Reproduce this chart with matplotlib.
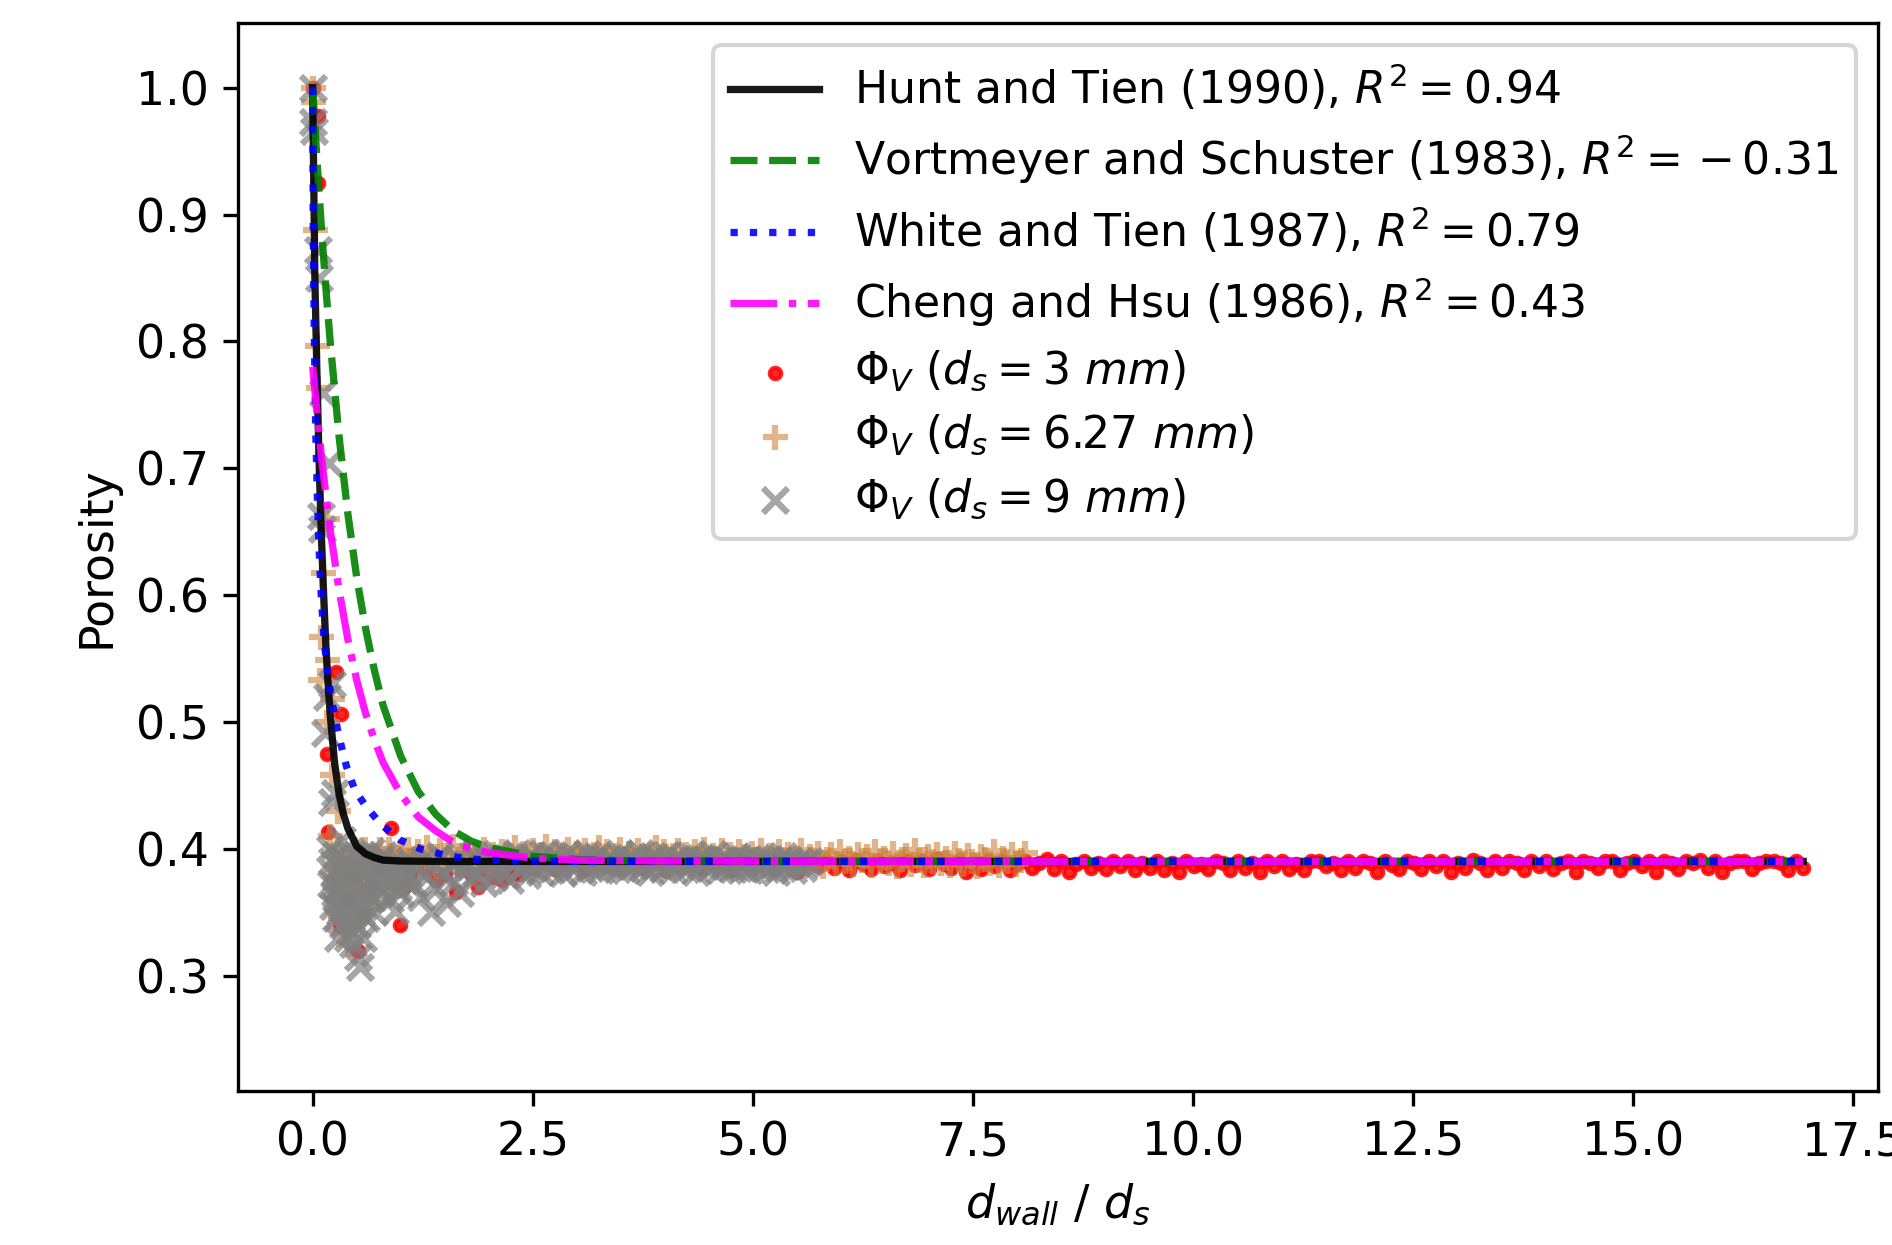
import numpy as np
import matplotlib
matplotlib.use("Agg")
import matplotlib.pyplot as plt

plt.rcParams['font.size'] = 11
plt.rcParams['mathtext.fontset'] = 'dejavusans'

# ---------------- correlation curves ----------------
hunt_x = [0, 0.025, 0.05, 0.075, 0.1, 0.125, 0.15, 0.175, 0.2, 0.25, 0.3, 0.35, 0.4,
          0.5, 0.6, 0.7, 0.8, 1.0, 1.5, 3.0, 6.0, 9.0, 12.0, 15.0, 16.93]
hunt_y = [1.0, 0.85, 0.77, 0.70, 0.645, 0.60, 0.56, 0.53, 0.505, 0.467, 0.443, 0.427, 0.416,
          0.402, 0.396, 0.393, 0.391, 0.3903, 0.39, 0.39, 0.39, 0.39, 0.39, 0.39, 0.39]

vort_x = [0, 0.05, 0.1, 0.15, 0.2, 0.3, 0.4, 0.5, 0.6, 0.7, 0.8, 1.0, 1.2, 1.4, 1.6,
          1.8, 2.0, 2.5, 3.0, 3.5, 4.0, 6.0, 9.0, 12.0, 15.0, 16.93]
vort_y = [1.0, 0.942, 0.889, 0.842, 0.799, 0.725, 0.664, 0.614, 0.574, 0.541, 0.513, 0.473,
          0.445, 0.427, 0.414, 0.406, 0.401, 0.394, 0.3915, 0.3906, 0.3902, 0.39, 0.39,
          0.39, 0.39, 0.39]

white_x = [0, 0.007, 0.018, 0.034, 0.057, 0.08, 0.10, 0.13, 0.17, 0.216, 0.3, 0.386,
           0.48, 0.61, 0.78, 0.99, 1.22, 1.5, 1.75, 2.2, 3.0, 6.0, 9.0, 12.0, 15.0, 16.93]
white_y = [1.0, 0.89, 0.81, 0.733, 0.667, 0.625, 0.596, 0.565, 0.538, 0.517, 0.488,
           0.4645, 0.446, 0.433, 0.419, 0.407, 0.400, 0.395, 0.392, 0.3905, 0.39, 0.39,
           0.39, 0.39, 0.39, 0.39]

cheng_x = [0, 0.05, 0.1, 0.15, 0.2, 0.3, 0.4, 0.5, 0.6, 0.7, 0.8, 1.0, 1.2, 1.4, 1.6,
           1.8, 2.0, 2.5, 3.0, 4.0, 6.0, 9.0, 12.0, 15.0, 16.93]
cheng_y = [0.780, 0.743, 0.709, 0.679, 0.651, 0.604, 0.565, 0.533, 0.507, 0.486, 0.468,
           0.443, 0.425, 0.414, 0.405, 0.400, 0.397, 0.3926, 0.391, 0.3903, 0.39, 0.39,
           0.39, 0.39, 0.39]

curve_labels = [r'Hunt and Tien (1990), $R^2 = 0.94$',
                r'Vortmeyer and Schuster (1983), $R^2 = \,{-}\,0.31$',
                r'White and Tien (1987), $R^2 = 0.79$',
                r'Cheng and Hsu (1986), $R^2 = 0.43$']

# ---------------- measured porosity, d_s = 3 mm ----------------
red_near_x = [0.000, 0.060, 0.057, 0.160, 0.175, 0.270, 0.320, 0.310, 0.400, 0.450, 0.520,
              0.570, 0.650, 0.750, 0.800, 0.890, 0.990, 1.040, 1.100, 1.200, 1.300, 1.400,
              1.500, 1.630, 1.700, 1.800, 1.880, 1.960, 2.050, 2.150, 2.250, 2.330, 2.410]
red_near_y = [1.000, 0.978, 0.925, 0.475, 0.413, 0.539, 0.506, 0.339, 0.360, 0.380, 0.319,
              0.347, 0.370, 0.385, 0.390, 0.416, 0.340, 0.370, 0.380, 0.388, 0.385, 0.375,
              0.380, 0.366, 0.385, 0.380, 0.370, 0.383, 0.378, 0.375, 0.385, 0.380, 0.383]
red_tail_range = (2.5, 16.93)
red_tail_y = [
    0.385, 0.389, 0.390, 0.384, 0.390, 0.387, 0.391, 0.383, 0.389, 0.393, 0.386, 0.390,
    0.384, 0.390, 0.388, 0.385, 0.390, 0.389, 0.383, 0.390, 0.386, 0.394, 0.388, 0.384,
    0.390, 0.386, 0.390, 0.383, 0.389, 0.391, 0.385, 0.388, 0.393, 0.384, 0.390, 0.387,
    0.382, 0.390, 0.389, 0.386, 0.390, 0.385, 0.390, 0.383, 0.391, 0.388, 0.384, 0.390,
    0.386, 0.389, 0.383, 0.390, 0.387, 0.390, 0.384, 0.392, 0.388, 0.385, 0.390, 0.382,
    0.389, 0.384, 0.390, 0.386, 0.390, 0.383, 0.388, 0.390, 0.385, 0.389, 0.392, 0.384,
    0.390, 0.382, 0.388, 0.390, 0.385, 0.389, 0.384, 0.390, 0.386, 0.390, 0.383, 0.389,
    0.385, 0.390, 0.383, 0.389, 0.382, 0.390, 0.386, 0.388, 0.384, 0.390, 0.389, 0.383,
    0.390, 0.385, 0.389, 0.382, 0.390, 0.386, 0.390, 0.384, 0.388, 0.383, 0.390, 0.390,
    0.386, 0.389, 0.383, 0.390, 0.385, 0.390, 0.389, 0.382, 0.390, 0.387, 0.384, 0.390,
    0.389, 0.384, 0.390, 0.386, 0.390, 0.382, 0.389, 0.385, 0.391, 0.389, 0.383, 0.390,
    0.385, 0.390, 0.389, 0.383, 0.390, 0.386, 0.390, 0.384, 0.389, 0.390, 0.382, 0.390,
    0.389, 0.385, 0.390, 0.390, 0.383, 0.389, 0.390, 0.386, 0.390, 0.382, 0.390, 0.389,
    0.384, 0.390, 0.389, 0.391, 0.385, 0.390, 0.382, 0.389, 0.390, 0.390, 0.384, 0.389,
    0.390, 0.390, 0.389, 0.383, 0.390, 0.385]

# ---------------- measured porosity, d_s = 6.27 mm ----------------
tan_near_x = [0.000, 0.007, 0.026, 0.045, 0.064, 0.158, 0.120, 0.100, 0.160, 0.083, 0.216,
              0.160, 0.216, 0.290, 0.200, 0.230, 0.250, 0.270, 0.290, 0.310, 0.330, 0.350,
              0.370, 0.400, 0.420, 0.440, 0.460, 0.480, 0.500, 0.530, 0.550, 0.580, 0.610,
              0.640, 0.670, 0.700, 0.730, 0.770, 0.810, 0.850, 0.890, 0.940, 0.980, 1.030,
              1.080, 1.110, 0.240, 0.280, 0.320, 0.360, 0.390, 0.430, 0.470, 0.520, 0.570,
              0.600, 0.660, 0.720, 0.790, 0.870, 0.920, 1.000]
tan_near_y = [1.000, 0.989, 0.888, 0.796, 0.763, 0.660, 0.617, 0.567, 0.549, 0.533, 0.518,
              0.500, 0.458, 0.430, 0.410, 0.395, 0.380, 0.360, 0.400, 0.345, 0.370, 0.390,
              0.335, 0.325, 0.355, 0.380, 0.340, 0.400, 0.365, 0.350, 0.385, 0.370, 0.395,
              0.380, 0.360, 0.390, 0.375, 0.400, 0.385, 0.370, 0.395, 0.380, 0.390, 0.385,
              0.400, 0.390, 0.370, 0.350, 0.385, 0.360, 0.345, 0.370, 0.390, 0.380, 0.360,
              0.400, 0.390, 0.395, 0.390, 0.400, 0.390, 0.398]
tan_tail_range = (1.15, 8.09)
tan_tail_y = [
    0.392, 0.398, 0.389, 0.401, 0.394, 0.386, 0.399, 0.391, 0.396, 0.402, 0.388, 0.395, 0.399, 0.390, 0.397, 0.393, 0.400, 0.387, 0.396, 0.392,
    0.398, 0.391, 0.395, 0.401, 0.389, 0.397, 0.393, 0.399, 0.388, 0.396, 0.402, 0.392, 0.398, 0.390, 0.395, 0.400, 0.391, 0.397, 0.394, 0.399,
    0.390, 0.396, 0.401, 0.393, 0.398, 0.389, 0.395, 0.400, 0.392, 0.397, 0.391, 0.399, 0.394, 0.388, 0.396, 0.401, 0.392, 0.398, 0.390, 0.395,
    0.399, 0.391, 0.396, 0.389, 0.398, 0.393, 0.400, 0.390, 0.395, 0.392, 0.399, 0.388, 0.396, 0.391, 0.398, 0.394, 0.389, 0.397, 0.392, 0.399,
    0.390, 0.395, 0.388, 0.398, 0.392, 0.396, 0.387, 0.393, 0.399, 0.389, 0.394, 0.391, 0.397, 0.386, 0.392, 0.396, 0.389, 0.398, 0.390, 0.393,
    0.388, 0.396, 0.391, 0.394, 0.387, 0.398, 0.390, 0.393, 0.389, 0.397, 0.386, 0.392, 0.395, 0.388, 0.399, 0.391, 0.387, 0.394, 0.390, 0.396,
    0.389, 0.393, 0.387, 0.397, 0.391, 0.388, 0.395, 0.390, 0.386, 0.394, 0.392, 0.389, 0.398, 0.387, 0.393, 0.390, 0.396, 0.388, 0.391, 0.397]

# ---------------- measured porosity, d_s = 9 mm ----------------
gray_near_x = [0.000, 0.005, 0.010, 0.064, 0.068, 0.120, 0.180, 0.100, 0.104, 0.160, 0.216,
               0.140, 0.250, 0.220, 0.330, 0.200, 0.220, 0.240, 0.260, 0.270, 0.280, 0.300,
               0.310, 0.330, 0.340, 0.350, 0.370, 0.380, 0.400, 0.410, 0.430, 0.440, 0.460,
               0.470, 0.490, 0.500, 0.520, 0.540, 0.550, 0.570, 0.590, 0.610, 0.630, 0.650,
               0.680, 0.700, 0.730, 0.760, 0.800, 0.840, 0.880, 0.910, 0.930, 0.970, 1.000,
               1.040, 1.080, 1.120,
               0.210, 0.230, 0.250, 0.270, 0.290, 0.300, 0.320, 0.340, 0.360, 0.380, 0.390,
               0.420, 0.450, 0.480, 0.510, 0.530, 0.560, 0.580, 0.600, 0.620, 0.660, 0.690,
               0.720, 0.750, 0.780, 0.820, 0.860, 0.900, 0.950, 0.990, 1.020, 1.060, 1.100,
               0.440, 0.550, 0.660, 0.800]
gray_near_y = [1.000, 0.973, 0.966, 0.872, 0.850, 0.759, 0.704, 0.662, 0.652, 0.520, 0.530,
               0.491, 0.444, 0.437, 0.407, 0.400, 0.390, 0.380, 0.395, 0.370, 0.360, 0.385,
               0.350, 0.354, 0.375, 0.340, 0.365, 0.390, 0.330, 0.355, 0.380, 0.345, 0.325,
               0.360, 0.385, 0.340, 0.315, 0.307, 0.350, 0.330, 0.370, 0.345, 0.390, 0.360,
               0.375, 0.350, 0.385, 0.365, 0.370, 0.380, 0.360, 0.375, 0.351, 0.370, 0.383,
               0.375, 0.380, 0.372,
               0.372, 0.355, 0.365, 0.345, 0.330, 0.370, 0.390, 0.360, 0.385, 0.350, 0.372,
               0.335, 0.370, 0.350, 0.375, 0.360, 0.385, 0.355, 0.380, 0.365, 0.385, 0.362,
               0.372, 0.390, 0.378, 0.385, 0.372, 0.388, 0.378, 0.365, 0.388, 0.382, 0.390,
               0.395, 0.395, 0.398, 0.395]
gray_tail_range = (1.15, 5.64)
gray_tail_y = [
    0.372, 0.385, 0.362, 0.391, 0.378, 0.350, 0.388, 0.369, 0.394, 0.380, 0.357, 0.386, 0.374, 0.392, 0.365, 0.383, 0.389, 0.376, 0.395, 0.381,
    0.387, 0.373, 0.393, 0.384, 0.378, 0.396, 0.386, 0.380, 0.391, 0.375, 0.389, 0.397, 0.383, 0.388, 0.379, 0.394, 0.385, 0.390, 0.382, 0.396,
    0.388, 0.383, 0.395, 0.386, 0.391, 0.381, 0.397, 0.387, 0.384, 0.393, 0.389, 0.382, 0.396, 0.385, 0.390, 0.394, 0.383, 0.388, 0.392, 0.386,
    0.391, 0.384, 0.396, 0.388, 0.383, 0.393, 0.386, 0.390, 0.397, 0.385, 0.389, 0.382, 0.394, 0.387, 0.391, 0.384, 0.395, 0.388, 0.383, 0.392,
    0.386, 0.390, 0.384, 0.395, 0.389, 0.382, 0.393, 0.387, 0.391, 0.385, 0.396, 0.388, 0.383, 0.392, 0.386, 0.390, 0.384, 0.394, 0.389, 0.385,
    0.391, 0.383, 0.388, 0.393, 0.385, 0.390, 0.384, 0.392, 0.387, 0.382, 0.389, 0.394, 0.386, 0.391, 0.383, 0.388, 0.390, 0.385, 0.389, 0.390]

scatter_labels = [r'$\Phi_V$ $(d_s = 3\ mm)$',
                  r'$\Phi_V$ $(d_s = 6.27\ mm)$',
                  r'$\Phi_V$ $(d_s = 9\ mm)$']

x_ticks = [0.0, 2.5, 5.0, 7.5, 10.0, 12.5, 15.0, 17.5]
y_ticks = [0.3, 0.4, 0.5, 0.6, 0.7, 0.8, 0.9, 1.0]


def series(near_x, near_y, tail_range, tail_y):
    tx = np.linspace(tail_range[0], tail_range[1], len(tail_y))
    return np.concatenate([near_x, tx]), np.concatenate([near_y, tail_y])


red_x, red_y = series(red_near_x, red_near_y, red_tail_range, red_tail_y)
tan_x, tan_y = series(tan_near_x, tan_near_y, tan_tail_range, tan_tail_y)
gray_x, gray_y = series(gray_near_x, gray_near_y, gray_tail_range, gray_tail_y)

W, H = 1893, 1245
fig = plt.figure(figsize=(W / 300, H / 300), dpi=300)
ax = fig.add_axes([238 / W, 1 - 1091 / H, (1878 - 238) / W, (1091 - 23) / H])

lw = 1.75
ax.plot(hunt_x, hunt_y, '-', color='black', alpha=0.9, lw=lw, label=curve_labels[0])
ax.plot(vort_x, vort_y, '--', color='green', alpha=0.9, lw=lw, label=curve_labels[1])
ax.plot(white_x, white_y, ':', color='blue', alpha=0.9, lw=lw, label=curve_labels[2])
ax.plot(cheng_x, cheng_y, '-.', color='magenta', alpha=0.9, lw=lw, label=curve_labels[3])

ax.scatter(red_x, red_y, marker='.', color='red', alpha=0.85, s=30, zorder=1.0,
           label=scatter_labels[0])
ax.scatter(tan_x, tan_y, marker='+', color='peru', alpha=0.6, s=36, zorder=1.1,
           label=scatter_labels[1])
ax.scatter(gray_x, gray_y, marker='x', color='gray', alpha=0.7, s=36, zorder=1.2,
           label=scatter_labels[2])

ax.set_xlim(-0.848, 17.78)
ax.set_ylim(0.209, 1.051)
ax.set_xticks(x_ticks)
ax.set_yticks(y_ticks)
ax.set_xlabel(r'$d_{wall}$ / $d_s$')
ax.set_ylabel('Porosity')
ax.legend(loc='upper right', fontsize=10.6, labelspacing=0.44)

fig.savefig('out.png', dpi=300)
